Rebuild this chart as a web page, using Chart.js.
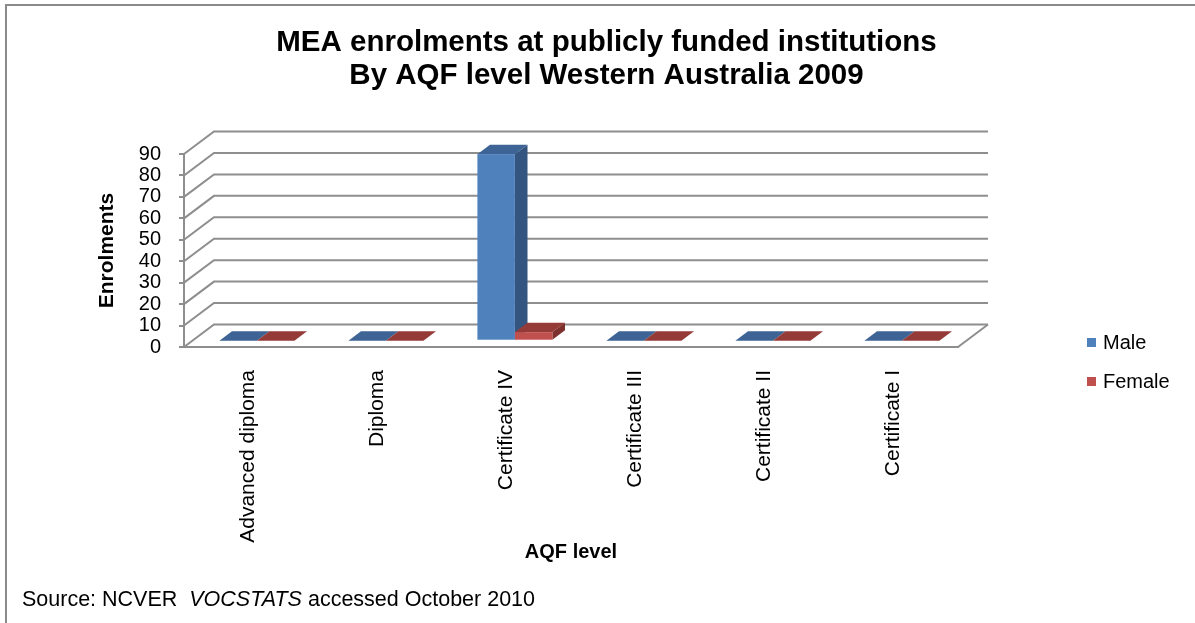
<!DOCTYPE html>
<html>
<head>
<meta charset="utf-8">
<title>MEA enrolments by AQF level</title>
<script src="https://cdn.jsdelivr.net/npm/chart.js@4.4.1/dist/chart.umd.min.js"></script>
<style>
  html, body { margin: 0; padding: 0; background: #ffffff; }
  #wrap { width: 1195px; height: 623px; }
</style>
</head>
<body>
<div id="wrap"><canvas id="chart" width="1195" height="623"></canvas></div>
<script>
// ---- data ----
const categories = ['Advanced diploma', 'Diploma', 'Certificate IV', 'Certificate III', 'Certificate II', 'Certificate I'];
const maleValues = [0, 0, 87, 0, 0, 0];
const femaleValues = [0, 0, 4, 0, 0, 0];
const seriesNames = ['Male', 'Female'];
const yMin = 0;
const yMax = 90;
const yStep = 10;
const titleLines = ['MEA enrolments at publicly funded institutions', 'By AQF level Western Australia 2009'];
const yAxisTitle = 'Enrolments';
const xAxisTitle = 'AQF level';
const sourceParts = [
  { text: 'Source: NCVER  ', italic: false },
  { text: 'VOCSTATS', italic: true },
  { text: ' accessed October 2010', italic: false }
];

// ---- styling ----
const FONT = '"Liberation Sans", Arial, Helvetica, sans-serif';
const GRID = '#8e8e8e';
const DEPTH = { dx: 30, dy: -22.5 };       // full floor depth vector
const BAR_FRONT = 0.28;                    // front face position inside the depth
const BAR_DEPTH = 0.42;                    // thickness of each column
const faces = [
  { front: '#4F81BD', top: '#3D6494', side: '#33557F' },
  { front: '#C0504D', top: '#943A37', side: '#7D302D' }
];

Chart.defaults.font.family = FONT;
Chart.defaults.color = '#000000';

const column3d = {
  id: 'column3d',
  beforeDraw(chart) {
    const ctx = chart.ctx;
    ctx.save();
    ctx.fillStyle = '#ffffff';
    ctx.fillRect(0, 0, chart.width, chart.height);
    // outer frame
    ctx.strokeStyle = '#8a8a8a';
    ctx.lineWidth = 2;
    ctx.strokeRect(6, 5, chart.width + 50, chart.height + 50);
    ctx.restore();
  },
  beforeDatasetsDraw(chart) {
    // back wall, side wall and floor
    const ctx = chart.ctx;
    const { left, right } = chart.chartArea;
    const ys = chart.scales.y;
    ctx.save();
    ctx.strokeStyle = GRID;
    ctx.lineWidth = 2;
    ctx.lineCap = 'butt';
    ys.ticks.forEach(t => {
      const py = ys.getPixelForValue(t.value);
      ctx.beginPath();
      ctx.moveTo(left, py);
      ctx.lineTo(left + DEPTH.dx, py + DEPTH.dy);
      ctx.lineTo(right + DEPTH.dx, py + DEPTH.dy);
      ctx.stroke();
    });
    const p0 = ys.getPixelForValue(yMin);
    ctx.beginPath();
    ctx.moveTo(right, p0);
    ctx.lineTo(right + DEPTH.dx, p0 + DEPTH.dy);
    ctx.stroke();
    ctx.restore();
  },
  beforeDatasetDraw() {
    // the columns are drawn as boxes below
    return false;
  },
  afterDatasetsDraw(chart) {
    const ctx = chart.ctx;
    const ox = DEPTH.dx * BAR_FRONT, oy = DEPTH.dy * BAR_FRONT;
    const bx = DEPTH.dx * BAR_DEPTH, by = DEPTH.dy * BAR_DEPTH;
    const n = chart.data.labels.length;
    ctx.save();
    for (let j = 0; j < n; j++) {
      chart.data.datasets.forEach((ds, i) => {
        const el = chart.getDatasetMeta(i).data[j];
        if (!el) return;
        const p = el.getProps(['x', 'y', 'base', 'width'], true);
        const l = p.x - p.width / 2 + ox;
        const r = p.x + p.width / 2 + ox;
        const t = Math.min(p.y, p.base) + oy;
        const b = Math.max(p.y, p.base) + oy;
        const c = faces[i];
        // right side
        ctx.fillStyle = c.side;
        ctx.beginPath();
        ctx.moveTo(r, t); ctx.lineTo(r + bx, t + by); ctx.lineTo(r + bx, b + by); ctx.lineTo(r, b);
        ctx.closePath(); ctx.fill();
        // top
        ctx.fillStyle = c.top;
        ctx.beginPath();
        ctx.moveTo(l, t); ctx.lineTo(r, t); ctx.lineTo(r + bx, t + by); ctx.lineTo(l + bx, t + by);
        ctx.closePath(); ctx.fill();
        // front
        if (b - t > 0) {
          ctx.fillStyle = c.front;
          ctx.fillRect(l, t, r - l, b - t);
        }
      });
    }
    ctx.restore();
  },
  afterDraw(chart) {
    const ctx = chart.ctx;
    ctx.save();
    // title
    ctx.fillStyle = '#000000';
    ctx.textAlign = 'center';
    ctx.textBaseline = 'middle';
    ctx.font = 'bold 29.5px ' + FONT;
    titleLines.forEach((line, k) => ctx.fillText(line, 606.5, 43 + k * 33));
    // legend
    ctx.textAlign = 'left';
    ctx.font = '20px ' + FONT;
    chart.data.datasets.forEach((ds, i) => {
      const cy = 342.5 + i * 39;
      ctx.fillStyle = ds.backgroundColor;
      ctx.fillRect(1087, cy - 4.5, 9, 9);
      ctx.fillStyle = '#000000';
      ctx.fillText(ds.label, 1103, cy + 1);
    });
    // source note
    let x = 22;
    sourceParts.forEach(part => {
      ctx.font = (part.italic ? 'italic ' : '') + '21.5px ' + FONT;
      ctx.fillText(part.text, x, 600);
      x += ctx.measureText(part.text).width;
    });
    ctx.restore();
  }
};

new Chart(document.getElementById('chart'), {
  type: 'bar',
  data: {
    labels: categories,
    datasets: [
      { label: seriesNames[0], data: maleValues, backgroundColor: faces[0].front },
      { label: seriesNames[1], data: femaleValues, backgroundColor: faces[1].front }
    ]
  },
  options: {
    responsive: false,
    devicePixelRatio: 1,
    animation: false,
    categoryPercentage: 0.5814,
    barPercentage: 1.0,
    layout: { padding: { left: 10, right: 237, top: 154, bottom: 54 } },
    plugins: {
      legend: { display: false },
      title: { display: false },
      tooltip: { enabled: false }
    },
    scales: {
      x: {
        grid: { display: false, drawTicks: false },
        border: { display: true, color: GRID, width: 2 },
        ticks: {
          autoSkip: false, minRotation: 90, maxRotation: 90,
          padding: 23, color: '#000000', font: { size: 21 }
        },
        title: {
          display: true, text: xAxisTitle, color: '#000000',
          font: { size: 20, weight: 'bold' }, padding: { top: 0, bottom: 5 }
        },
        afterFit(scale) { scale.height = 222; }
      },
      y: {
        min: yMin, max: yMax,
        grid: { display: true, drawOnChartArea: false, drawTicks: true, tickLength: 5, color: GRID, lineWidth: 2 },
        border: { display: true, color: GRID, width: 2 },
        ticks: { stepSize: yStep, autoSkip: false, padding: 18, color: '#000000', font: { size: 20 } },
        title: {
          display: true, text: yAxisTitle, color: '#000000',
          font: { size: 21, weight: 'bold' }, padding: { top: 84.4, bottom: 0 }
        },
        afterFit(scale) { scale.width = 174; }
      }
    }
  },
  plugins: [column3d]
});
</script>
</body>
</html>
